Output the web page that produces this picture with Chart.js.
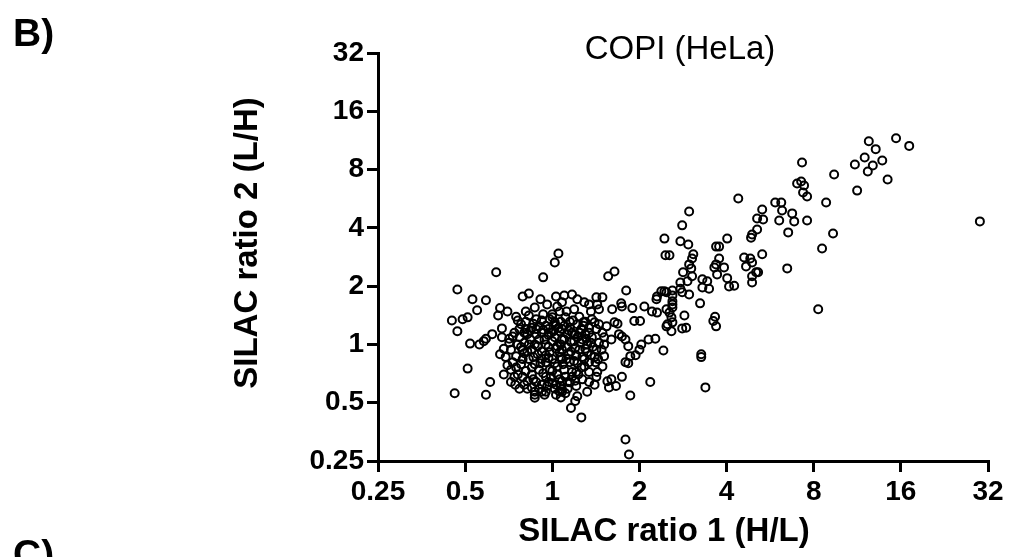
<!DOCTYPE html>
<html>
<head>
<meta charset="utf-8">
<script src="https://cdn.jsdelivr.net/npm/chart.js@4.4.1/dist/chart.umd.min.js"></script>
<style>
  html, body { margin: 0; padding: 0; background: #fff; }
  #c { display: block; }
</style>
</head>
<body>
<canvas id="c" width="1010" height="557"></canvas>
<script>
// Axis tick values (log2 axes)
const tickValues = [0.25, 0.5, 1, 2, 4, 8, 16, 32];
const xTitle = 'SILAC ratio 1 (H/L)';
const yTitle = 'SILAC ratio 2 (L/H)';
const chartTitle = 'COPI (HeLa)';

// Data: [SILAC ratio 1 (H/L), SILAC ratio 2 (L/H)]
const leftGroup = [
  [1.05,2.95],[1.02,2.65],[0.64,2.36],[0.93,2.22],[0.47,1.92],[0.53,1.71],[0.59,1.69],[0.79,1.77],
  [0.83,1.83],[0.55,1.50],[0.66,1.54],[0.70,1.48],[0.65,1.41],[0.75,1.39],[0.76,1.33],[0.45,1.33],
  [0.49,1.35],[0.51,1.38],[0.47,1.17],[0.67,1.21],[0.52,1.01],[0.56,1.00],[0.58,1.04],[0.59,1.07],
  [0.62,1.13],[0.67,1.09],[0.71,1.07],[0.68,0.95],[0.66,0.89],[0.51,0.75],[0.46,0.56],[0.59,0.55],
  [0.61,0.64],[0.68,0.70],[0.72,0.64],[0.87,0.55],[0.87,0.53],[0.94,0.55],[1.03,0.55],[1.07,0.61],
  [1.08,0.57],[1.16,0.47],[1.20,0.51],[1.26,0.42],[1.03,1.77],[1.04,1.57],[1.00,1.43],[0.88,1.35]
];
const midGroup = [
  [2.46,2.89],[2.54,2.89],[1.56,2.25],[1.64,2.38],[1.80,1.90],[1.42,1.75],[1.49,1.75],[1.61,1.52],
  [1.73,1.63],[1.74,1.57],[1.89,1.54],[2.08,1.57],[2.21,1.48],[2.30,1.46],[2.30,1.77],[2.38,1.88],
  [2.48,1.86],[2.60,1.90],[2.77,2.09],[2.83,2.36],[2.48,1.52],[2.60,1.67],[2.58,1.38],[2.48,1.24],
  [2.58,1.17],[2.81,1.86],[2.81,1.21],[1.92,1.32],[2.01,1.32],[1.64,1.30],[1.68,1.28],[1.54,1.24],
  [1.70,1.13],[1.74,1.10],[1.79,1.06],[1.83,0.98],[1.60,1.06],[1.51,1.09],[2.15,1.06],[2.27,1.07],
  [2.03,1.00],[2.00,0.94],[1.94,0.88],[1.86,0.87],[2.42,0.93],[1.79,0.81],[1.83,0.80],[1.51,0.87],
  [1.49,0.77],[1.41,0.81],[1.74,0.68],[1.60,0.66],[1.55,0.645],[1.57,0.60],[1.66,0.61],[1.42,0.68],
  [1.34,0.64],[1.32,0.57],[2.18,0.64],[1.86,0.545],[1.21,0.61],[1.22,0.54],[1.29,1.65],[1.17,1.81],
  [1.08,1.65],[1.43,1.61],[1.45,1.52],[1.37,1.35],[1.45,1.27],[1.30,1.31],[1.49,1.15],[1.79,0.323],
  [1.84,0.27]
];
const upperGroup = [
  [4.39,5.67],[2.97,4.86],[2.81,4.12],[2.44,3.52],[2.77,3.41],[2.95,3.28],[4.02,3.52],[3.68,3.20],
  [3.77,3.20],[3.07,2.92],[3.04,2.78],[2.97,2.59],[3.02,2.47],[3.77,2.78],[3.68,2.59],[3.63,2.50],
  [3.92,2.50],[3.04,2.25],[3.30,2.17],[3.43,2.12],[3.71,2.30],[2.93,2.12],[2.77,1.94],[3.30,1.97],
  [3.48,1.94],[4.02,2.20],[4.08,1.99],[4.25,2.01],[4.60,2.81],[4.83,2.78],[4.90,2.65],[4.67,2.53],
  [5.31,2.92],[5.06,2.36],[4.90,2.25],[4.90,2.09],[5.14,2.36],[4.86,3.56],[4.90,3.70],[5.10,3.92],
  [5.10,4.47],[5.31,4.98],[5.35,4.42],[5.89,5.41],[6.18,5.41],[6.22,4.92],[6.08,4.37],[6.74,4.75],
  [6.85,4.32],[6.53,3.79],[7.01,6.78],[6.48,2.47],[2.44,1.88],[2.29,1.71],[2.60,1.79],[2.60,1.61],
  [2.60,1.55],[2.54,1.46],[2.97,1.81],[3.24,1.63],[2.86,1.41],[2.50,1.27],[2.60,1.30],[2.90,1.22],
  [3.65,1.39],[3.60,1.32],[3.68,1.24],[3.27,0.89],[3.27,0.86],[3.38,0.60]
];
const topRightGroup = [
  [12.4,11.2],[15.4,11.6],[17.1,10.6],[13.1,10.2],[12.0,9.24],[11.1,8.5],[12.8,8.4],[13.8,8.92],
  [12.3,7.82],[14.4,7.11],[7.29,8.71],[9.41,7.55],[11.3,6.23],[7.24,6.94],[7.41,6.62],[7.35,6.09],
  [7.59,5.81],[8.83,5.41],[7.59,4.37],[9.33,3.74],[8.55,3.13],[8.29,1.52],[30.0,4.32]
];
const clusterGroup = [
  [0.78,1.27],[0.81,1.20],[0.85,1.22],[0.90,1.24],[0.95,1.25],[1.02,1.30],[1.07,1.31],[0.77,1.09],
  [0.80,1.02],[0.79,0.94],[0.75,0.87],[0.73,0.81],[0.75,0.76],[0.72,0.74],[0.83,0.84],[0.87,0.79],
  [0.92,0.84],[0.95,0.81],[0.98,0.74],[1.04,0.77],[1.08,0.84],[0.79,0.68],[0.82,0.645],[0.88,0.64],
  [0.92,0.62],[0.96,0.61],[0.90,0.59],[1.02,0.59],[1.06,0.57],[0.87,0.57],[0.90,1.06],[0.95,1.00],
  [1.00,1.04],[1.04,0.98],[1.08,1.06],[0.85,0.94],[0.92,0.92],[0.98,0.91],[1.06,0.91],[0.74,0.68],
  [0.82,1.13],[0.88,1.13],[0.92,1.15],[0.99,1.15],[1.06,1.17],
  [1.12,1.48],[1.19,1.52],[1.24,1.39],[1.15,1.31],[1.08,1.20],[1.17,1.15],[1.26,1.20],[1.34,1.15],
  [1.42,1.20],[1.10,1.06],[1.19,1.04],[1.27,1.06],[1.36,1.02],[1.45,1.02],[1.08,0.94],[1.16,0.92],
  [1.24,0.94],[1.32,0.91],[1.42,0.94],[1.12,0.84],[1.19,0.82],[1.27,0.86],[1.34,0.81],[1.10,0.74],
  [1.17,0.72],[1.26,0.76],[1.34,0.72],[1.43,0.72],[1.08,0.645],[1.15,0.637],[1.27,0.66],[1.08,0.586],
  [1.07,0.532],
  [0.77,1.20],[0.81,1.31],[0.84,1.06],[0.87,1.00],[0.94,1.06],[0.97,1.20],[1.02,1.09],[1.07,1.00],
  [1.13,1.13],[1.15,1.22],[1.22,1.09],[1.30,1.13],[1.37,1.09],[1.34,1.22],[1.22,1.27],[1.11,1.38],
  [1.06,1.48],[0.98,1.35],[0.93,1.43],[0.83,1.41],[0.78,0.79],[0.81,0.73],[0.85,0.70],[0.90,0.74],
  [0.95,0.68],[0.99,0.68],[1.04,0.70],[1.11,0.68],[1.17,0.68],[1.23,0.70],[1.29,0.77],[1.40,0.86],
  [1.32,1.00],[1.21,0.88],[1.14,0.89],[1.07,0.86],[1.00,0.84],[0.95,0.88],[0.89,0.89],[0.82,0.92],
  [0.79,0.84],[0.76,1.00],[0.72,0.94],[0.74,1.15],[0.745,0.62],[0.77,0.59],[0.82,0.59],[0.95,0.57],
  [1.00,0.63],[1.13,0.59],[1.21,0.72],[1.40,0.62],[1.48,0.94],[1.51,1.00],[0.91,1.71],[0.96,1.61],
  [0.87,1.55],[0.81,1.48],[1.10,1.79],[1.22,1.71],[1.34,1.61],[1.36,1.48]
];
const coreGroup = [
  [0.80,1.15],[0.84,1.18],[0.88,1.20],[0.93,1.19],[0.97,1.12],[1.01,1.17],[1.05,1.22],[1.10,1.25],
  [1.14,1.18],[1.19,1.12],[1.24,1.15],[1.28,1.25],[1.31,1.07],[1.25,1.02],[1.16,1.03],[1.12,0.97],
  [1.03,0.95],[0.97,0.97],[0.89,0.98],[0.83,1.00],[0.78,0.97],[0.80,0.90],[0.86,0.86],[0.91,0.80],
  [0.97,0.85],[1.02,0.80],[1.09,0.79],[1.15,0.81],[1.22,0.80],[1.29,0.84],[1.36,0.88],[1.30,0.95],
  [1.20,0.96],[0.85,0.76],[0.93,0.71],[1.00,0.73],[1.06,0.66],[1.13,0.64],[1.20,0.65],[0.86,0.66],
  [0.80,0.62],[0.76,0.70],[0.70,0.78],[0.69,0.86],[0.71,1.02],[0.73,1.10],[0.86,1.28],[0.92,1.33],
  [1.00,1.38],[1.03,1.25],[1.18,1.33],[1.28,1.30],[1.40,1.30],[1.38,0.97],[1.44,0.84],[0.97,0.64],
  [0.92,0.57],[1.11,0.56],[1.03,0.62],[0.85,0.60]
];

const allPoints = [].concat(leftGroup, midGroup, upperGroup, topRightGroup, clusterGroup, coreGroup)
  .map(p => ({ x: p[0], y: p[1] }));

const FONT = '"Liberation Sans", Arial, Helvetica, sans-serif';

const textPlugin = {
  id: 'panelText',
  afterDraw(chart) {
    const c = chart.ctx, a = chart.chartArea;
    c.save();
    c.fillStyle = '#000';
    // chart title inside the plot
    c.font = '33px ' + FONT;
    c.textAlign = 'center';
    c.textBaseline = 'middle';
    c.fillText(chartTitle, (a.left + a.right) / 2 - 3, a.top - 3);
    // axis titles
    c.font = 'bold 33px ' + FONT;
    c.fillText(xTitle, a.left + 286, a.bottom + 71);
    c.save();
    c.translate(a.left - 130, a.top + 190);
    c.rotate(-Math.PI / 2);
    c.fillText(yTitle, 0, 0);
    c.restore();
    // panel letters
    c.font = 'bold 39px ' + FONT;
    c.textAlign = 'left';
    c.textBaseline = 'alphabetic';
    c.fillText('B)', 13, 46);
    c.fillText('C)', 13, 567);
    c.restore();
  }
};

function axisCommon() {
  return {
    type: 'logarithmic',
    min: 0.25,
    max: 32,
    afterBuildTicks: s => { s.ticks = tickValues.map(v => ({ value: v })); },
    ticks: {
      callback: v => String(v),
      autoSkip: false,
      maxRotation: 0,
      color: '#000',
      font: { family: FONT, weight: 'bold', size: 28 },
      padding: 3
    },
    grid: {
      display: true,
      drawOnChartArea: false,
      drawTicks: true,
      tickLength: 11,
      lineWidth: 3,
      color: '#000'
    },
    border: { display: true, width: 3, color: '#000' },
    title: { display: false }
  };
}

const xAxis = axisCommon();
xAxis.position = 'bottom';
xAxis.afterFit = s => { s.height = 90; };

const yAxis = axisCommon();
yAxis.position = 'left';
yAxis.afterFit = s => { s.width = 149; };

new Chart(document.getElementById('c'), {
  type: 'scatter',
  data: {
    datasets: [{
      data: allPoints,
      pointStyle: 'circle',
      pointRadius: 4,
      pointBorderWidth: 2,
      borderColor: '#000',
      backgroundColor: 'rgba(0,0,0,0)',
      pointHoverRadius: 4
    }]
  },
  options: {
    responsive: false,
    animation: false,
    layout: { padding: { left: 229, top: 53, right: 22, bottom: 6 } },
    plugins: { legend: { display: false }, tooltip: { enabled: false } },
    scales: { x: xAxis, y: yAxis }
  },
  plugins: [textPlugin]
});
</script>
</body>
</html>
